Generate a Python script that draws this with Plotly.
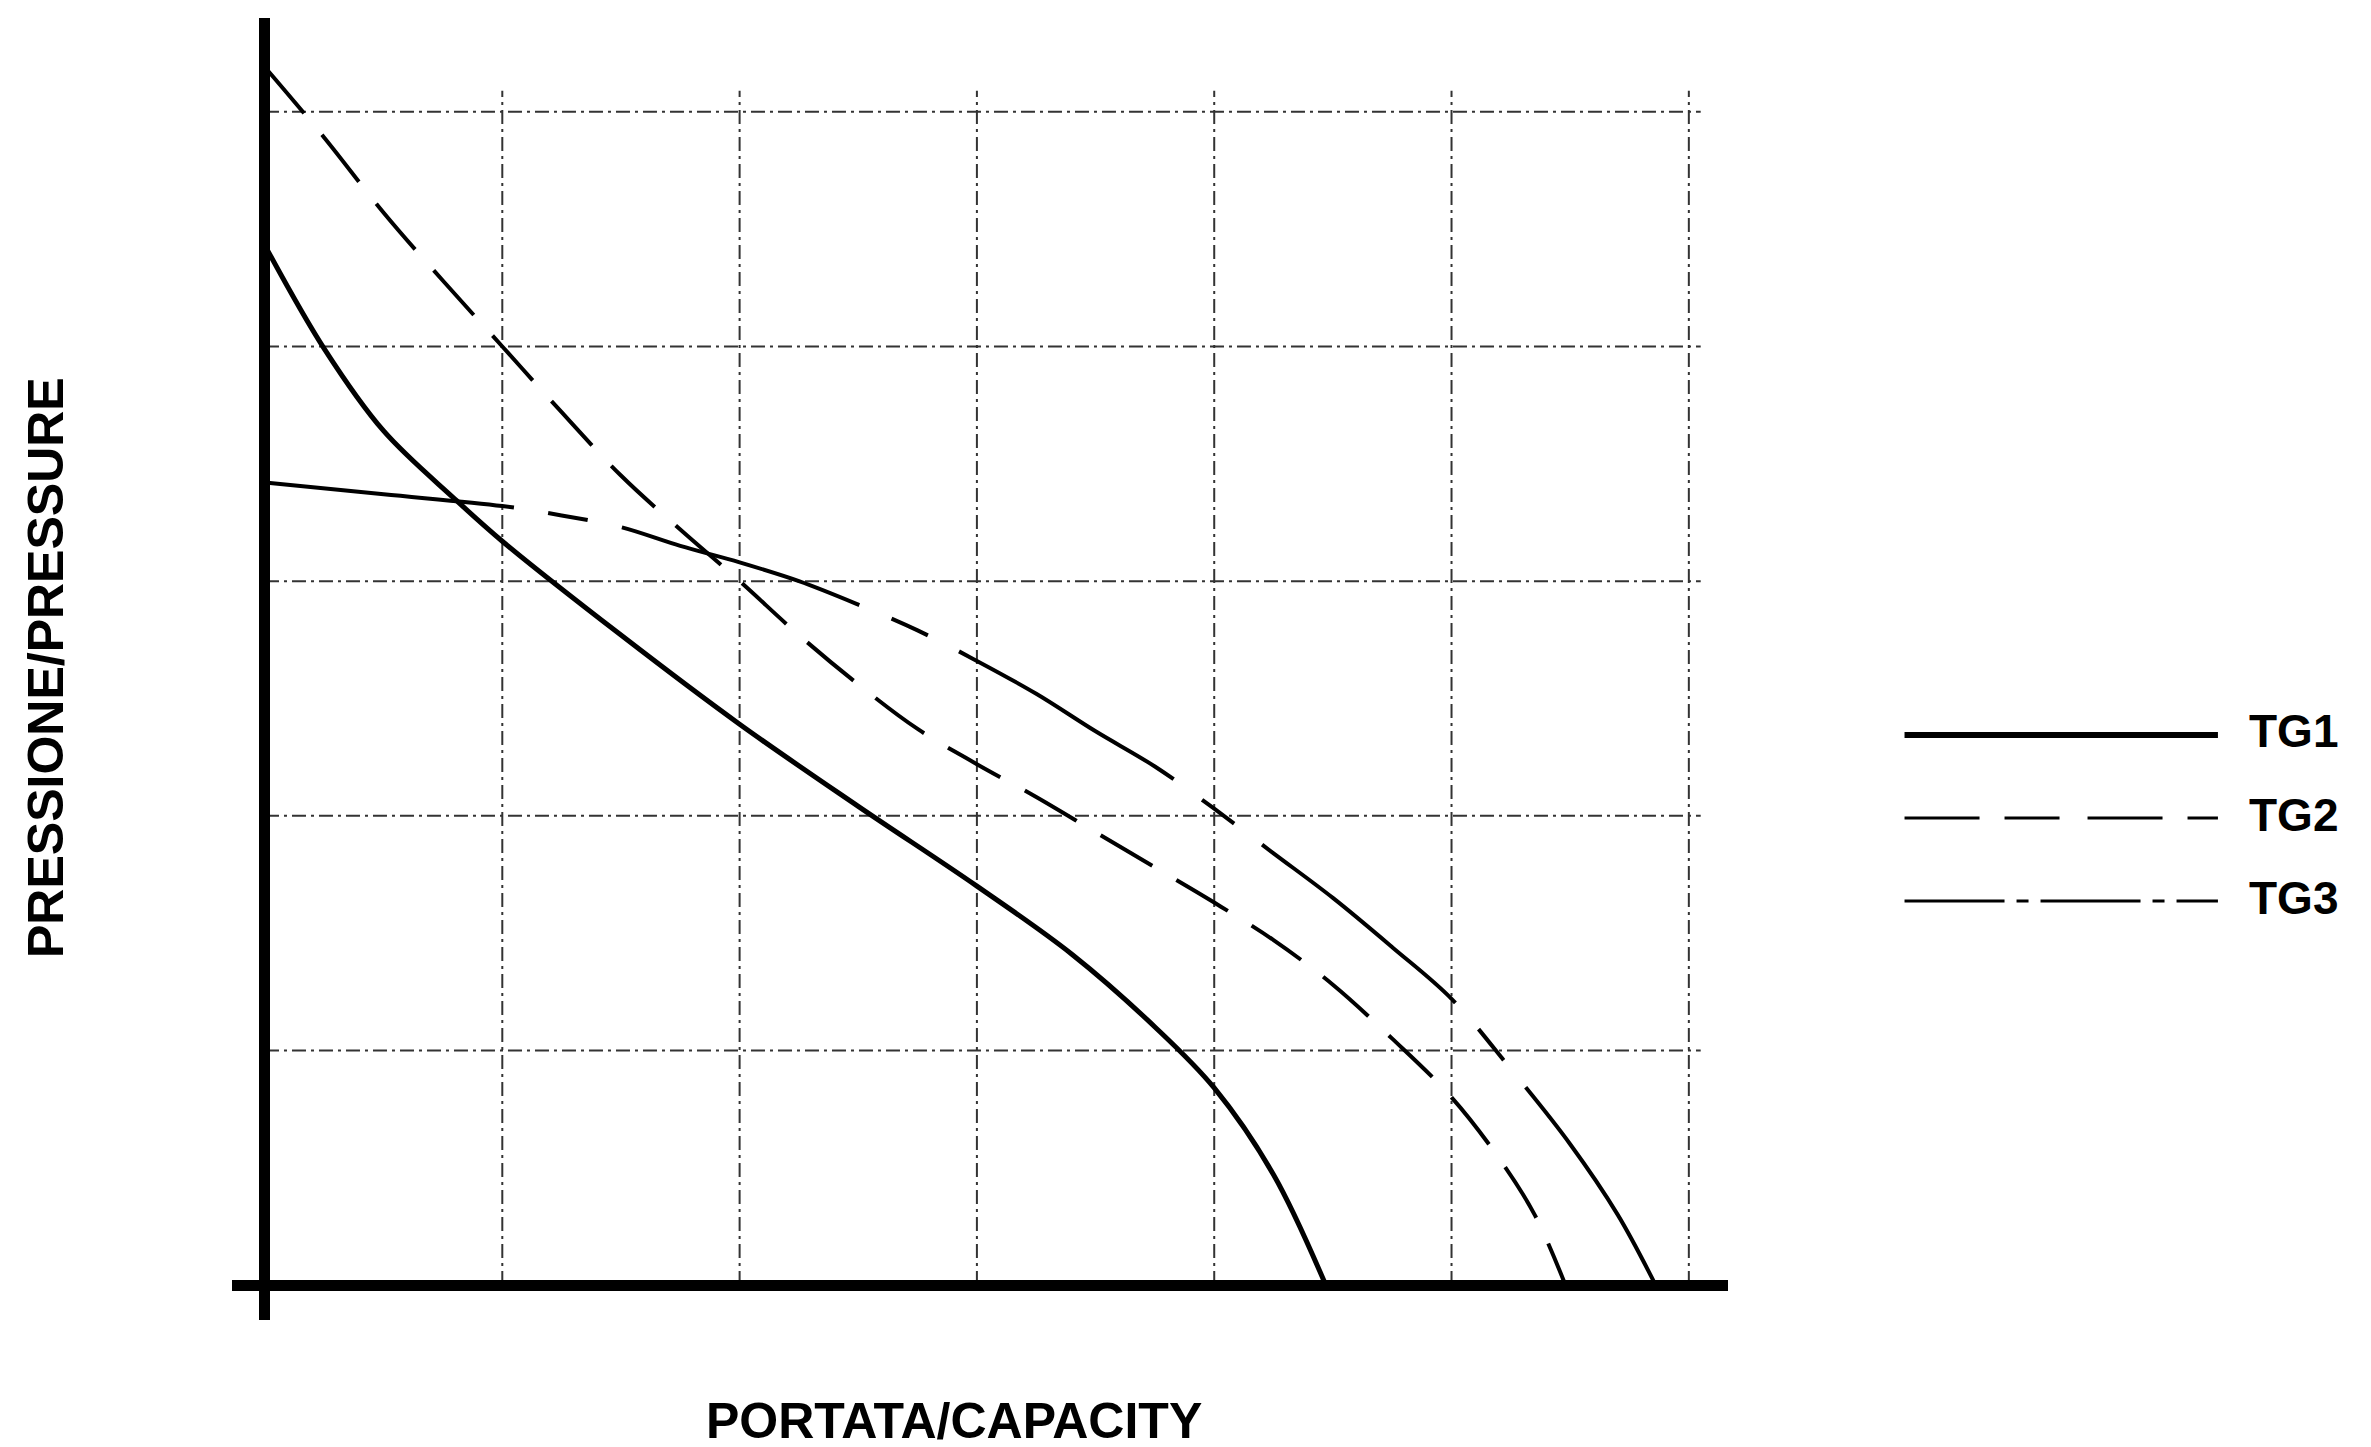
import plotly.graph_objects as go

# ---- data (grid units) ----
tg1_x = [0, 0.25, 0.5, 0.8, 1.0, 1.5, 2.0, 2.5, 3.0, 3.4, 3.75, 4.0, 4.25, 4.47]
tg1_y = [4.43, 3.99, 3.64, 3.35, 3.17, 2.77, 2.39, 2.04, 1.70, 1.41, 1.10, 0.84, 0.47, 0]

tg2_x = [0, 0.25, 0.5, 0.75, 1.0, 1.25, 1.5, 1.75, 2.0, 2.25, 2.5, 2.75, 3.0, 3.25,
         3.5, 3.75, 4.0, 4.25, 4.5, 4.75, 5.0, 5.2, 5.35, 5.48]
tg2_y = [5.19, 4.89, 4.57, 4.28, 4.0, 3.72, 3.45, 3.22, 3.0, 2.77, 2.56, 2.37, 2.22, 2.08,
         1.93, 1.78, 1.63, 1.47, 1.28, 1.05, 0.80, 0.54, 0.30, 0]

tg3_x = [0, 0.5, 1.0, 1.25, 1.5, 1.75, 2.0, 2.25, 2.5, 2.75, 3.0, 3.25, 3.5, 3.75,
         4.0, 4.25, 4.5, 4.75, 5.0, 5.25, 5.5, 5.7, 5.86]
tg3_y = [3.42, 3.37, 3.32, 3.28, 3.23, 3.15, 3.08, 3.0, 2.90, 2.79, 2.66, 2.52, 2.36, 2.21,
         2.03, 1.84, 1.65, 1.44, 1.22, 0.92, 0.60, 0.30, 0]

series_names = ["TG1", "TG2", "TG3"]
x_grid = [1, 2, 3, 4, 5, 6]
y_grid = [1, 2, 3, 4, 5]
x_title = "PORTATA/CAPACITY"
y_title = "PRESSIONE/PRESSURE"

# ---- styles ----
FONT = "Liberation Sans"
styles = [
    dict(color="black", width=5, dash="solid"),
    dict(color="black", width=4, dash="60px,28px"),
    dict(color="black", width=4, dash="250px,35px,40px,35px"),
]
legend_styles = [
    dict(color="black", width=6, dash="solid"),
    dict(color="black", width=3, dash="75px,25px,55px,28px"),
    dict(color="black", width=3, dash="100px,12px,12px,12px"),
]

fig = go.Figure()
for name, xs, ys, st in zip(series_names, [tg1_x, tg2_x, tg3_x], [tg1_y, tg2_y, tg3_y], styles):
    fig.add_trace(go.Scatter(x=xs, y=ys, mode="lines", name=name,
                             line=dict(shape="spline", smoothing=1.0, **st),
                             showlegend=False, hoverinfo="skip"))

grid_line = dict(color="#333333", width=2, dash="14px,5px,3px,5px")
shapes = []
for gx in x_grid:
    shapes.append(dict(type="line", xref="x", yref="y", x0=gx, x1=gx, y0=0, y1=5.09,
                       line=grid_line, layer="below"))
for gy in y_grid:
    shapes.append(dict(type="line", xref="x", yref="y", x0=0, x1=6.05, y0=gy, y1=gy,
                       line=grid_line, layer="below"))

# manual legend
leg_y = [0.4493, 0.3856, 0.3218]
lab_y = [0.4524, 0.3879, 0.3241]
annotations = []
for name, ly, ty, st in zip(series_names, leg_y, lab_y, legend_styles):
    shapes.append(dict(type="line", xref="paper", yref="paper", x0=1.118, x1=1.3275,
                       y0=ly, y1=ly, line=st))
    annotations.append(dict(text=name, xref="paper", yref="paper", x=1.347, y=ty,
                            xanchor="left", yanchor="middle", showarrow=False,
                            font=dict(family=FONT, size=46, color="black", weight="bold")))

annotations.append(dict(text=x_title, xref="paper", yref="paper", x=0.4826, y=-0.1005,
                        xanchor="center", yanchor="bottom", showarrow=False,
                        font=dict(family=FONT, size=50, color="black", weight="bold")))
annotations.append(dict(text=y_title, xref="paper", yref="paper", x=-0.1243, y=0.5008,
                        xanchor="center", yanchor="middle", showarrow=False, textangle=-90,
                        font=dict(family=FONT, size=50, color="black", weight="bold")))

axis_common = dict(showgrid=False, zeroline=True, zerolinecolor="black", zerolinewidth=11,
                   showticklabels=False, ticks="", showline=False, fixedrange=True)

fig.update_layout(
    width=2371, height=1447,
    margin=dict(l=224, r=651, t=10, b=135),
    paper_bgcolor="white", plot_bgcolor="white",
    xaxis=dict(range=[-0.139, 6.165], **axis_common),
    yaxis=dict(range=[-0.149, 5.40], **axis_common),
    shapes=shapes, annotations=annotations,
    showlegend=False,
)

fig.write_html("out.html")
